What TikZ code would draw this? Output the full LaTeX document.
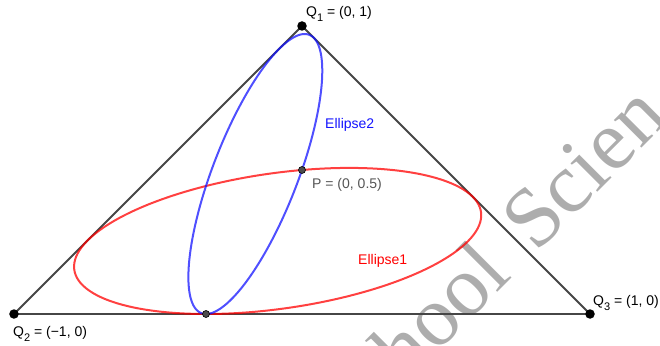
\documentclass[tikz,border=0pt]{standalone}
\usepackage{fontspec}
\setmainfont{Liberation Sans}
\newfontfamily\wmfont{Liberation Serif}
\definecolor{tricol}{RGB}{70,70,70}
\definecolor{redell}{RGB}{255,0,0}
\definecolor{blueell}{RGB}{20,20,255}
\definecolor{pcol}{RGB}{85,85,85}
\newcommand{\subn}[1]{\raisebox{-5pt}{\fontsize{11}{11}\selectfont #1}}
\begin{document}
\begin{tikzpicture}[x=288pt,y=288pt,
  lbl/.style={inner sep=0pt,anchor=base west,font=\fontsize{14}{17}\selectfont},
  vdot/.style={circle,fill=black,inner sep=0pt,minimum size=9.5pt},
  pdot/.style={circle,fill=black!70,draw=black,line width=0.6pt,inner sep=0pt,minimum size=7pt},
  triline/.style={draw=tricol,line width=1.9pt,line join=round},
  ellred/.style={draw=redell,draw opacity=0.75,line width=2pt},
  ellblue/.style={draw=blueell,draw opacity=0.75,line width=2pt}]
\useasboundingbox (-302pt,-31pt) rectangle (358pt,314pt);
% watermark
\begin{scope}
\clip (-302pt,-31pt) rectangle (358pt,314pt);
\node[inner sep=0pt,anchor=base west,rotate=45,text=black!32,font=\wmfont\fontsize{85}{100}\selectfont] (wm) at (104pt,-70pt) {hool\hspace{12pt} Scien};
\end{scope}
\coordinate (Q1) at (0,1);
\coordinate (Q2) at (-1,0);
\coordinate (Q3) at (1,0);
\coordinate (P) at (0,0.5);
\coordinate (T) at (-1/3,0);
\draw[triline] (Q1) -- (Q2) -- (Q3) -- cycle;
\draw[ellred] plot[smooth cycle,domain=0:357.5,samples=144,variable=\t]
  ({-0.08454-0.24879*cos(\t)+0.66170*sin(\t)},{0.25363-0.25363*cos(\t)});
\draw[ellblue] plot[smooth cycle,domain=0:357.5,samples=144,variable=\t]
  ({-0.16203-0.17130*cos(\t)+0.15720*sin(\t)},{0.48610-0.48610*cos(\t)});
\node[vdot] (q1) at (Q1) {};
\node[vdot] (q2) at (Q2) {};
\node[vdot] (q3) at (Q3) {};
\node[pdot] (p) at (P) {};
\node[pdot] (t) at (T) {};
\node[lbl] (lq1) at (4pt,297pt) {Q\subn{1} = (0, 1)};
\node[lbl] (lq2) at (-289pt,-22pt) {Q\subn{2} = (−1, 0)};
\node[lbl] (lq3) at (291pt,9pt) {Q\subn{3} = (1, 0)};
\node[lbl,text=pcol] (lp) at (10pt,125pt) {P = (0, 0.5)};
\node[lbl,text=blueell] (le2) at (23pt,185pt) {Ellipse2};
\node[lbl,text=redell] (le1) at (56pt,49pt) {Ellipse1};
\end{tikzpicture}
\end{document}
